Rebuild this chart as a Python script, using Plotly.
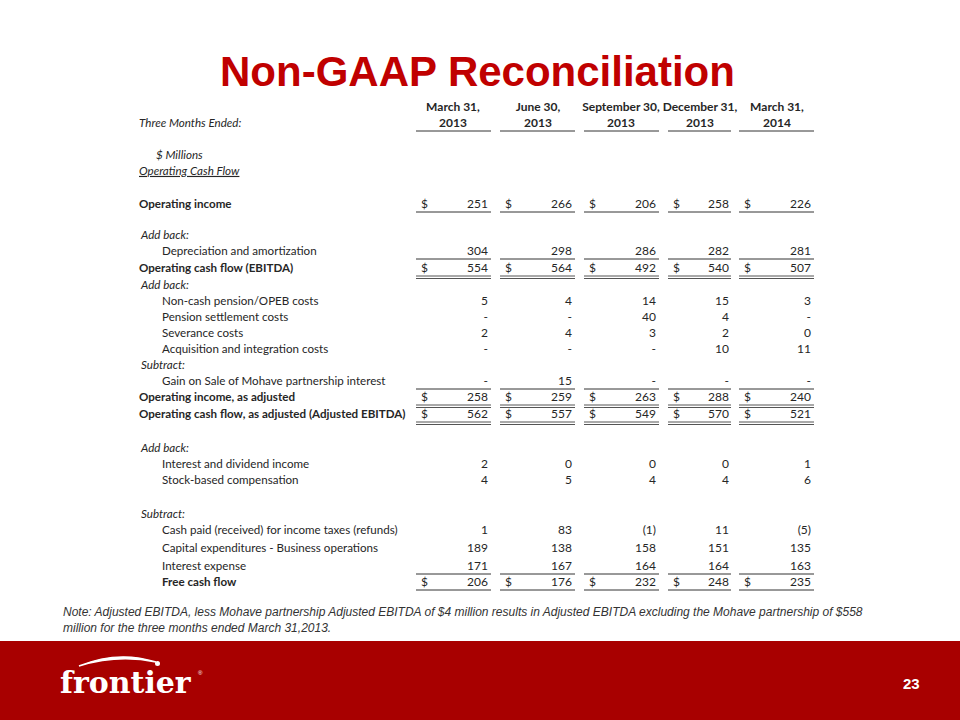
import plotly.graph_objects as go

# ---- data ----
PERIOD_TOP = ["March 31,", "June 30,", "September 30,", "December 31,", "March 31,"]
PERIOD_YEAR = ["2013", "2013", "2013", "2013", "2014"]

operating_income = [251, 266, 206, 258, 226]
depreciation = [304, 298, 286, 282, 281]
ebitda = [554, 564, 492, 540, 507]
noncash_pension = [5, 4, 14, 15, 3]
pension_settlement = [None, None, 40, 4, None]
severance = [2, 4, 3, 2, 0]
acquisition = [None, None, None, 10, 11]
gain_mohave = [None, 15, None, None, None]
op_income_adj = [258, 259, 263, 288, 240]
ocf_adj = [562, 557, 549, 570, 521]
interest_dividend = [2, 0, 0, 0, 1]
stock_comp = [4, 5, 4, 4, 6]
income_taxes = [1, 83, -1, 11, -5]
capex = [189, 138, 158, 151, 135]
interest_expense = [171, 167, 164, 164, 163]
free_cash_flow = [206, 176, 232, 248, 235]

NOTE = ("Note: Adjusted EBITDA, less Mohave partnership Adjusted EBITDA of $4 million results in "
        "Adjusted EBITDA excluding the Mohave partnership of $558<br>million for the three months "
        "ended March 31,2013.")

# (label, values, style, dollar sign, rule below)
ROWS = [
    ("$ Millions", None, "units", False, None),
    ("Operating Cash Flow", None, "heading", False, None),
    ("Operating income", operating_income, "bold", True, "single"),
    ("Add back:", None, "section", False, None),
    ("Depreciation and amortization", depreciation, "item", False, "single"),
    ("Operating cash flow (EBITDA)", ebitda, "bold", True, "double"),
    ("Add back:", None, "section", False, None),
    ("Non-cash pension/OPEB costs", noncash_pension, "item", False, None),
    ("Pension settlement costs", pension_settlement, "item", False, None),
    ("Severance costs", severance, "item", False, None),
    ("Acquisition and integration costs", acquisition, "item", False, None),
    ("Subtract:", None, "section", False, None),
    ("Gain on Sale of Mohave partnership interest", gain_mohave, "item", False, "single"),
    ("Operating income, as adjusted", op_income_adj, "bold", True, "double"),
    ("Operating cash flow, as adjusted (Adjusted EBITDA)", ocf_adj, "bold", True, "double"),
    ("Add back:", None, "section", False, None),
    ("Interest and dividend income", interest_dividend, "item", False, None),
    ("Stock-based compensation", stock_comp, "item", False, None),
    ("Subtract:", None, "section", False, None),
    ("Cash paid (received) for income taxes (refunds)", income_taxes, "item", False, None),
    ("Capital expenditures - Business operations", capex, "item", False, None),
    ("Interest expense", interest_expense, "item", False, "single"),
    ("Free cash flow", free_cash_flow, "itembold", True, "single"),
]

# ---- layout (pixel positions on a 960x720 canvas) ----
ROW_Y = [156, 172, 205, 236, 252, 269, 286, 302, 318, 334, 350, 366, 382, 398, 415,
         449, 465, 481, 515, 531, 549, 567, 583]
COL_X0 = [416, 500, 584, 668, 739]
COL_X1 = [491, 575, 659, 731, 814]
DOLLAR_X = [421, 505, 589, 673, 744]
NUM_X = [488, 572, 656, 729, 811]
HEAD_X = [453, 538, 621, 700, 777]

FONT = "Lato, Liberation Sans, sans-serif"
TXT = "#262626"
RED = "#C00000"
BAND = "#A80000"


def fmt(v):
    if v is None:
        return "-"
    if v < 0:
        return f"({-v})"
    return str(v)


fig = go.Figure()

# row labels
lab_x, lab_y, lab_t = [], [], []
for (label, vals, style, dollar, rule), y in zip(ROWS, ROW_Y):
    if style == "units":
        lab_x.append(156); lab_t.append(f"<i>{label}</i>")
    elif style == "heading":
        lab_x.append(139); lab_t.append(f"<i><u>{label}</u></i>")
    elif style == "bold":
        lab_x.append(139); lab_t.append(f"<b>{label}</b>")
    elif style == "section":
        lab_x.append(141); lab_t.append(f"<i>{label}</i>")
    elif style == "itembold":
        lab_x.append(162); lab_t.append(f"<b>{label}</b>")
    else:
        lab_x.append(162); lab_t.append(label)
    lab_y.append(y)
lab_x.append(139); lab_y.append(124); lab_t.append("<i>Three Months Ended:</i>")
fig.add_trace(go.Scatter(x=lab_x, y=lab_y, text=lab_t, mode="text", textposition="middle right",
                         textfont=dict(family=FONT, size=11.6, color=TXT), hoverinfo="skip"))

# numbers and dollar signs per column
for c in range(5):
    ny, nt, dy = [], [], []
    for (label, vals, style, dollar, rule), y in zip(ROWS, ROW_Y):
        if vals is None:
            continue
        nt.append(fmt(vals[c]))
        ny.append(y)
        if dollar:
            dy.append(y)
    fig.add_trace(go.Scatter(x=[NUM_X[c]] * len(ny), y=ny, text=nt, mode="text",
                             textposition="middle left",
                             textfont=dict(family=FONT, size=12, color=TXT), hoverinfo="skip"))
    fig.add_trace(go.Scatter(x=[DOLLAR_X[c]] * len(dy), y=dy, text=["$"] * len(dy), mode="text",
                             textposition="middle right",
                             textfont=dict(family=FONT, size=12, color=TXT), hoverinfo="skip"))

# column headers
fig.add_trace(go.Scatter(x=HEAD_X, y=[108] * 5, text=[f"<b>{t}</b>" for t in PERIOD_TOP],
                         mode="text", textposition="middle center",
                         textfont=dict(family=FONT, size=12, color=TXT), hoverinfo="skip"))
fig.add_trace(go.Scatter(x=HEAD_X, y=[124] * 5, text=[f"<b>{t}</b>" for t in PERIOD_YEAR],
                         mode="text", textposition="middle center",
                         textfont=dict(family=FONT, size=12, color=TXT), hoverinfo="skip"))

# rules
shapes = []


def hline(y, c, color="#333", w=1):
    shapes.append(dict(type="line", x0=COL_X0[c], x1=COL_X1[c], y0=y, y1=y,
                       line=dict(color=color, width=w)))


for c in range(5):
    hline(131, c)
    for (label, vals, style, dollar, rule), y in zip(ROWS, ROW_Y):
        if rule == "single":
            hline(y + 7, c)
        elif rule == "double":
            hline(y + 7, c, "#555")
            hline(y + 9.5, c, "#555")

# footer band
shapes.append(dict(type="rect", x0=0, x1=960, y0=641, y1=720, fillcolor=BAND,
                   line=dict(width=0), layer="below"))
# logo swoosh
shapes.append(dict(type="path", path="M 79 666 Q 118 650 156 662 Q 118 654 79 666 Z",
                   fillcolor="white", line=dict(color="white", width=1.4)))
shapes.append(dict(type="circle", x0=155, x1=160, y0=661, y1=666, fillcolor="white",
                   line=dict(width=0)))

annotations = [
    dict(x=477, y=71, text="<b>Non-GAAP Reconciliation</b>", showarrow=False,
         font=dict(family="Liberation Sans, Arial, sans-serif", size=42, color=RED),
         xanchor="center", yanchor="middle"),
    dict(x=61, y=620, text=f"<i>{NOTE}</i>", showarrow=False, align="left",
         font=dict(family="Liberation Sans, Arial, sans-serif", size=12, color="#333"),
         xanchor="left", yanchor="middle"),
    dict(x=58, y=682, text="<b>frontier</b>", showarrow=False,
         font=dict(family="DejaVu Serif, serif", size=30, color="white"),
         xanchor="left", yanchor="middle"),
    dict(x=196, y=673, text="®", showarrow=False,
         font=dict(family="Liberation Sans, sans-serif", size=6, color="white"),
         xanchor="left", yanchor="middle"),
    dict(x=911, y=683, text="<b>23</b>", showarrow=False,
         font=dict(family="Liberation Sans, Arial, sans-serif", size=15, color="white"),
         xanchor="center", yanchor="middle"),
]

fig.update_layout(
    width=960, height=720, margin=dict(l=0, r=0, t=0, b=0),
    paper_bgcolor="white", plot_bgcolor="white", showlegend=False,
    xaxis=dict(range=[0, 960], visible=False, fixedrange=True),
    yaxis=dict(range=[720, 0], visible=False, fixedrange=True),
    shapes=shapes, annotations=annotations,
)

fig.write_html("out.html", config={"displayModeBar": False},
               post_script="document.body.style.margin='0';")
